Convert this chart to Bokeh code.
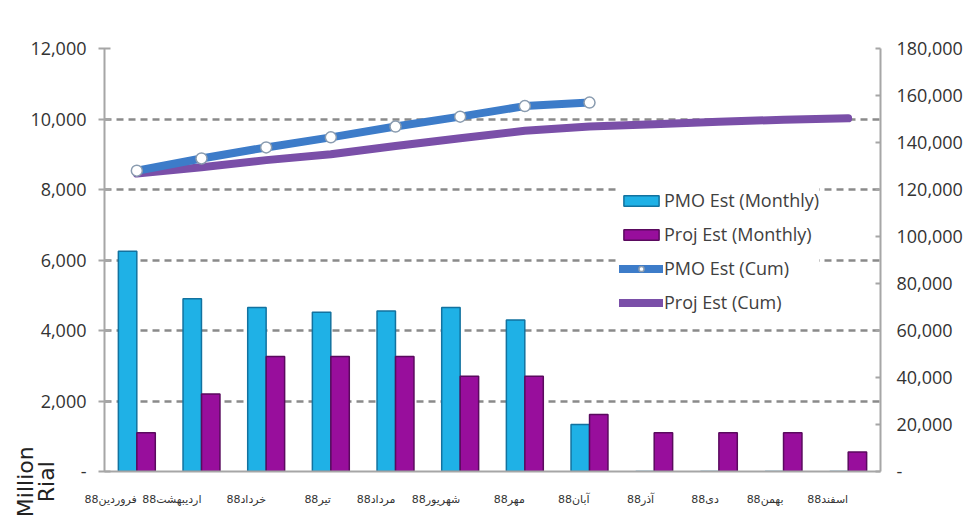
import math
from bokeh.plotting import figure
from bokeh.models import (ColumnDataSource, FactorRange, Range1d, LinearAxis,
                          SingleIntervalTicker, NumeralTickFormatter, Legend,
                          LegendItem, Label)
from bokeh.transform import dodge
from bokeh.embed import file_html
from bokeh.resources import INLINE

# ---- data ----
months = ["فروردین88", "اردیبهشت88", "خرداد88", "تیر88", "مرداد88", "شهریور88",
          "مهر88", "آبان88", "آذر88", "دی88", "بهمن88", "اسفند88"]
pmo_monthly = [6250, 4900, 4650, 4520, 4550, 4650, 4300, 1330, 0, 0, 0, 0]
proj_monthly = [1100, 2200, 3260, 3260, 3260, 2700, 2700, 1620, 1100, 1100, 1100, 550]
pmo_cum_months = months[:8]
pmo_cum = [128000, 133200, 137900, 142200, 146800, 151000, 155500, 157000]
proj_cum = [126800, 129500, 132500, 135000, 138500, 141800, 145000, 146800,
            147800, 148800, 149700, 150300]

left_ticks_interval = 2000
right_ticks_interval = 20000

TICK_FONT = "Open Sans"

src_bar = ColumnDataSource(dict(month=months, pmo=pmo_monthly, proj=proj_monthly))
src_pmo = ColumnDataSource(dict(month=pmo_cum_months, cum=pmo_cum))
src_proj = ColumnDataSource(dict(month=months, cum=proj_cum))

p = figure(width=972, height=531, x_range=FactorRange(*months),
           y_range=Range1d(0, 12000), output_backend="svg", toolbar_location=None,
           min_border_left=104, min_border_right=92, min_border_top=48,
           min_border_bottom=60)
p.outline_line_color = None
p.background_fill_color = "white"
p.border_fill_color = "white"

p.extra_y_ranges = {"cum": Range1d(0, 180000)}

# grid
p.xgrid.grid_line_color = None
p.ygrid.grid_line_color = "#8a8a8a"
p.ygrid.grid_line_width = 2.5
p.ygrid.grid_line_dash = "7 5"

# left axis
ya = p.yaxis[0]
ya.ticker = SingleIntervalTicker(interval=left_ticks_interval)
ya.formatter = NumeralTickFormatter(format="0,0")
ya.major_label_overrides = {0: "-"}
ya.axis_line_color = "#a6a6a6"
ya.axis_line_width = 2
ya.major_tick_line_color = "#a6a6a6"
ya.major_tick_line_width = 2
ya.major_tick_in = 6
ya.major_tick_out = 6
ya.minor_tick_line_color = None
ya.major_label_text_font = TICK_FONT
ya.major_label_text_font_size = "18px"
ya.major_label_text_color = "#333333"
ya.major_label_standoff = 12

# right axis
ra = LinearAxis(y_range_name="cum", ticker=SingleIntervalTicker(interval=right_ticks_interval),
                formatter=NumeralTickFormatter(format="0,0"))
ra.major_label_overrides = {0: "-"}
ra.axis_line_color = "#a6a6a6"
ra.axis_line_width = 2
ra.major_tick_line_color = "#a6a6a6"
ra.major_tick_line_width = 2
ra.major_tick_in = 5
ra.major_tick_out = 0
ra.minor_tick_line_color = None
ra.major_label_text_font = TICK_FONT
ra.major_label_text_font_size = "18px"
ra.major_label_text_color = "#333333"
ra.major_label_standoff = 12
p.add_layout(ra, "right")

# x axis
xa = p.xaxis[0]
xa.axis_line_color = "#a6a6a6"
xa.axis_line_width = 2
xa.major_tick_line_color = None
xa.major_label_text_font = "DejaVu Sans"
xa.major_label_text_font_size = "11px"
xa.major_label_text_color = "#333333"
xa.major_label_standoff = 22
xa.major_label_orientation = 0

# bars
r_pmo_bar = p.vbar(x=dodge("month", -0.143, range=p.x_range), top="pmo", width=0.285,
                   source=src_bar, fill_color="#1FB1E6", line_color="#12729F",
                   line_width=1.5)
r_proj_bar = p.vbar(x=dodge("month", 0.143, range=p.x_range), top="proj", width=0.285,
                    source=src_bar, fill_color="#980E9C", line_color="#5A0A5E",
                    line_width=1.5)

# cumulative lines
r_proj_line = p.line(x="month", y="cum", source=src_proj, y_range_name="cum",
                     line_color="#7A4FA8", line_width=8, line_cap="round",
                     line_join="round")
r_pmo_line = p.line(x="month", y="cum", source=src_pmo, y_range_name="cum",
                    line_color="#3D7CC9", line_width=8, line_cap="round",
                    line_join="round")
r_pmo_pts = p.scatter(x="month", y="cum", source=src_pmo, y_range_name="cum",
                      size=11, fill_color="white", line_color="#8a9cb0",
                      line_width=1.5)

legend = Legend(items=[
    LegendItem(label="PMO Est (Monthly)", renderers=[r_pmo_bar]),
    LegendItem(label="Proj Est (Monthly)", renderers=[r_proj_bar]),
    LegendItem(label="PMO Est (Cum)", renderers=[r_pmo_line, r_pmo_pts]),
    LegendItem(label="Proj Est (Cum)", renderers=[r_proj_line]),
], location=(515, 157))
legend.border_line_color = None
legend.background_fill_color = "white"
legend.background_fill_alpha = 1.0
legend.label_text_font = "Open Sans"
legend.label_text_font_size = "18px"
legend.label_text_color = "#404040"
legend.glyph_width = 44
legend.glyph_height = 13
legend.label_height = 22
legend.label_standoff = 1
legend.spacing = 10
legend.padding = 2
legend.margin = 0
p.add_layout(legend, "center")

# y axis title "Million / Rial" (rotated, low at the left edge); positioned in data
# units of the axes, held in side panels so that it is not clipped to the frame
title_style = dict(angle=math.pi / 2, text_align="center", text_baseline="middle",
                   text_font="DejaVu Sans", text_font_size="22px", text_color="#222222")
p.add_layout(Label(x=-1.22, y=-290, text="Million", **title_style), "left")
p.add_layout(Label(x=-0.9, y=-290, text="Rial", **title_style), "above")

open("out.html", "w").write(file_html(p, INLINE))
